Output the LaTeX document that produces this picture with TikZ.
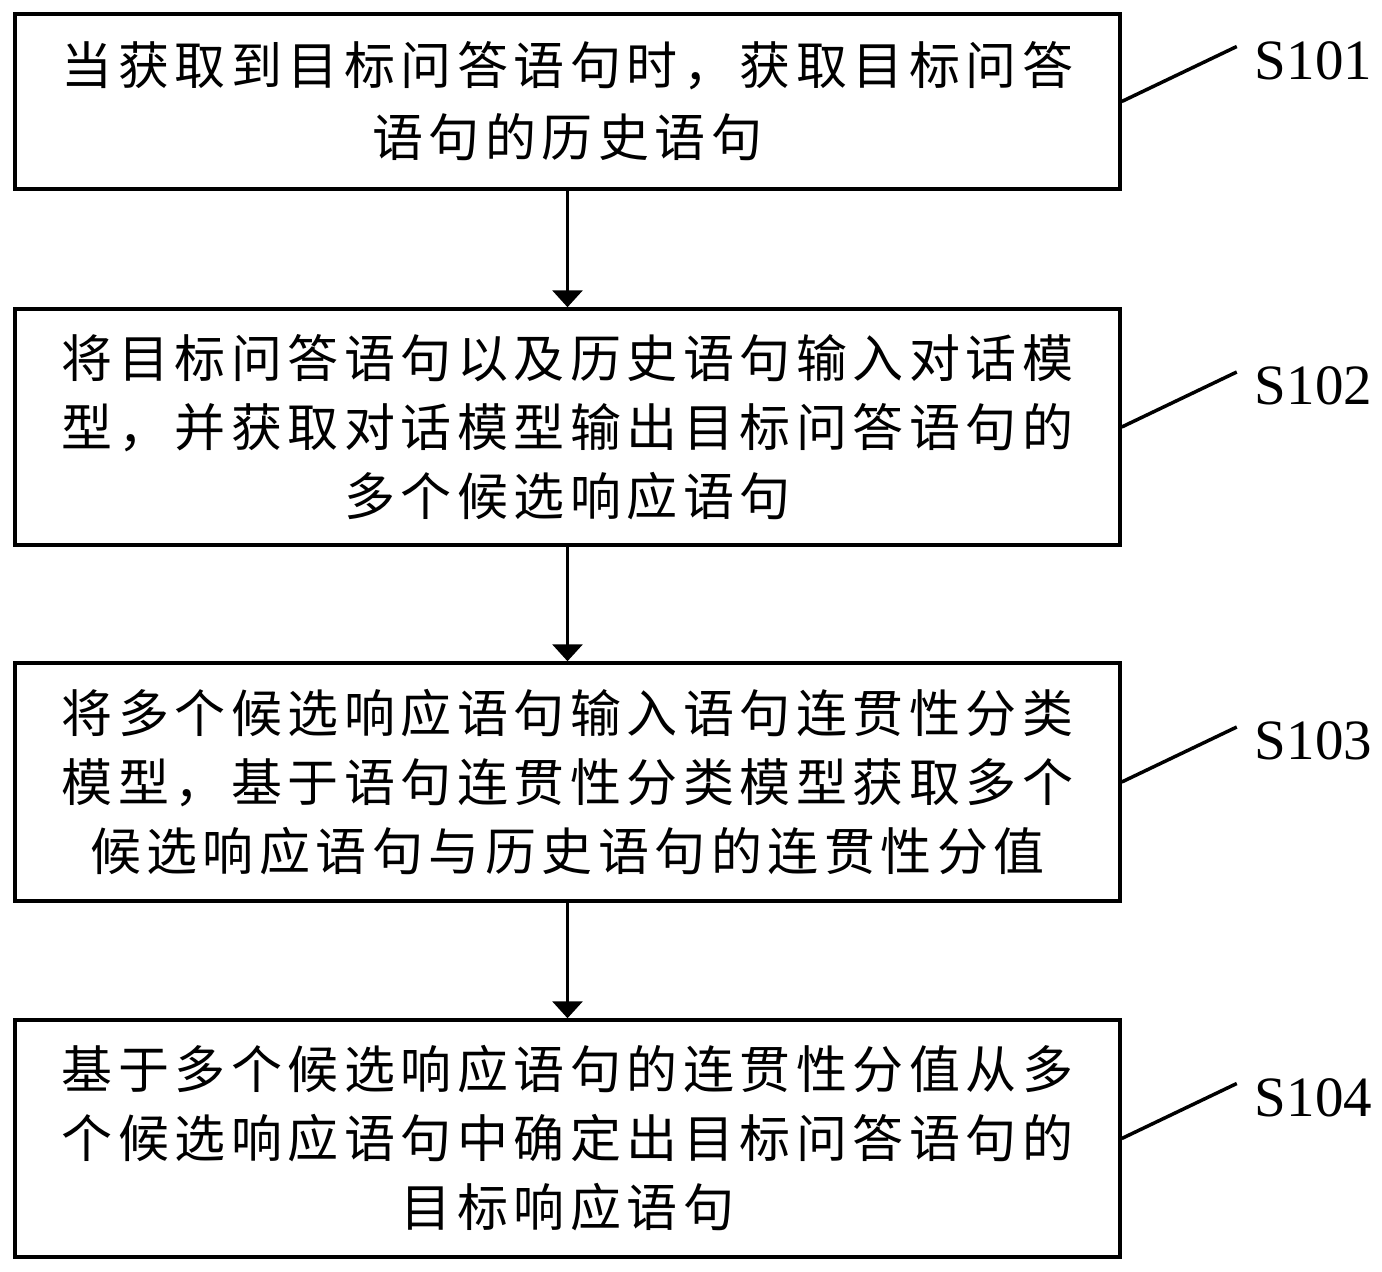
\documentclass[tikz,border=0pt]{standalone}
\usepackage{fontspec}
\setmainfont{Liberation Serif}
\newfontfamily\cjk{Noto Sans CJK SC}
\usetikzlibrary{arrows.meta,calc}
\XeTeXinterchartokenstate=1
\newXeTeXintercharclass\cjkclass
\newcount\cjkn
\cjkn="4E00
\loop
  \XeTeXcharclass\cjkn=\cjkclass
  \advance\cjkn by 1
\ifnum\cjkn<"A000 \repeat
\XeTeXcharclass"FF0C=\cjkclass
\newlength\cjkgap
\setlength\cjkgap{5.5pt}
\XeTeXinterchartoks\cjkclass\cjkclass={\hskip\cjkgap\relax}
\begin{document}
\begin{tikzpicture}[x=1pt,y=-1pt,
  stepbox/.style={draw=black,line width=3.5pt,inner sep=0pt,minimum width=1105pt,
    align=center,font=\cjk\fontsize{51}{69}\selectfont},
  flowarr/.style={line width=3.5pt,-{Triangle[width=30pt,length=17pt]}},
  leader/.style={line width=3.5pt},
  steplabel/.style={anchor=west,inner sep=0pt,font=\fontsize{57}{57}\selectfont}]
\useasboundingbox (0,0) rectangle (1382,1272);
\node[stepbox,minimum height=175pt,font=\cjk\fontsize{51}{72}\selectfont] (b1) at (567.5,101.5)
  {当获取到目标问答语句时，获取目标问答\\语句的历史语句};
\node[stepbox,minimum height=236pt] (b2) at (567.5,427)
  {将目标问答语句以及历史语句输入对话模\\型，并获取对话模型输出目标问答语句的\\多个候选响应语句};
\node[stepbox,minimum height=238pt] (b3) at (567.5,782)
  {将多个候选响应语句输入语句连贯性分类\\模型，基于语句连贯性分类模型获取多个\\候选响应语句与历史语句的连贯性分值};
\node[stepbox,minimum height=237pt] (b4) at (567.5,1138.5)
  {基于多个候选响应语句的连贯性分值从多\\个候选响应语句中确定出目标问答语句的\\目标响应语句};
\draw[flowarr] (b1.south) -- (b2.north);
\draw[flowarr] (b2.south) -- (b3.north);
\draw[flowarr] (b3.south) -- (b4.north);
\foreach \i/\t in {1/S101,2/S102,3/S103,4/S104}{
  \coordinate (e\i) at ($(b\i.east)+(115,-55)$);
  \draw[leader] (b\i.east) -- (e\i);
  \node[steplabel] (s\i) at ($(e\i)+(18,14)$) {\t};
}
\end{tikzpicture}
\end{document}
